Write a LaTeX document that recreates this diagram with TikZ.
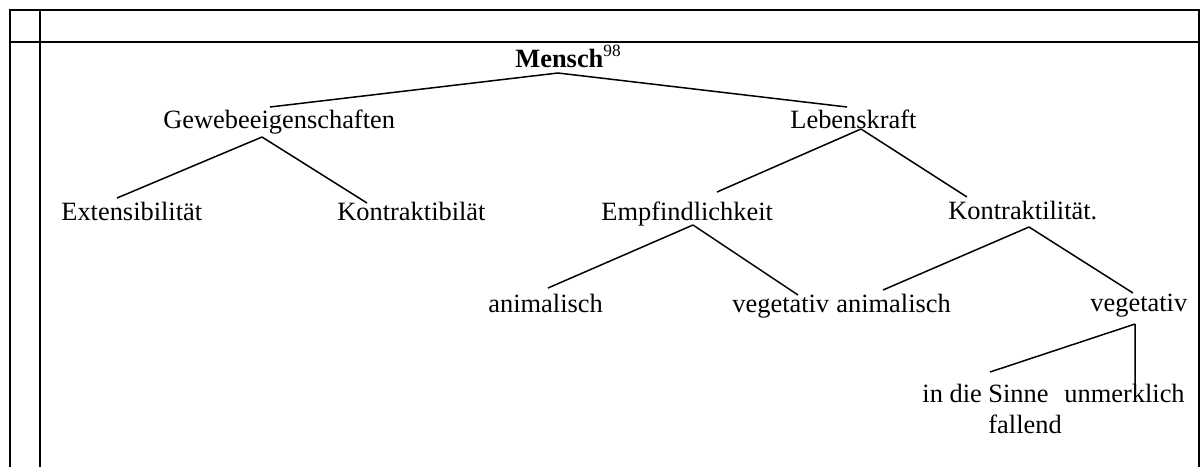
\documentclass[tikz,border=0pt]{standalone}
\usepackage{fontspec}
\setmainfont{Liberation Serif}
\usepackage{tikz}
\usetikzlibrary{calc}

\begin{document}
\begin{tikzpicture}[x={(0.5pt,0)}, y={(0,-0.5pt)},
	word/.style={inner sep=0pt, anchor=base west, font=\fontsize{13.2}{15.5}\selectfont},
	frame/.style={line width=1pt},
	twig/.style={line width=0.75pt}]

	\useasboundingbox (0,0) rectangle (1203,467);

	% table frame
	\draw[frame] (10,467) |- (1199,10) -- (1199,467);
	\draw[frame] (10,42) -- (1199,42);
	\draw[frame] (40,10) -- (40,467);

	% words of the tree
	\node[word] (mensch) at (515,67) {\textbf{Mensch}\raisebox{5.5pt}{\fontsize{8.6}{9}\selectfont 98}};
	\node[word] (gewebe) at (163,128) {Gewebeeigenschaften};
	\node[word] (leben) at (790,128) {Lebenskraft};
	\node[word] (ext) at (61,220) {Extensibilität};
	\node[word] (kontrb) at (337,220) {Kontraktibilät};
	\node[word] (empf) at (601,220) {Empfindlichkeit};
	\node[word] (kontrl) at (948,219) {Kontraktilität.};
	\node[word] (anim1) at (488,312) {animalisch};
	\node[word] (veg1) at (732,312) {vegetativ};
	\node[word] (anim2) at (836,312) {animalisch};
	\node[word] (veg2) at (1090,311) {vegetativ};
	\node[word] (sinne) at (922,402) {in die Sinne};
	\node[word] (unmerk) at (1064,402) {unmerklich};
	\node[word] (fallend) at (988,433) {fallend};

	% branches
	\draw[twig]
	($(mensch.base west)+(43,6)$) -- ($(gewebe.base west)+(107,-21)$)
	($(mensch.base west)+(43,6)$) -- ($(leben.base west)+(57,-21)$)
	($(gewebe.base west)+(99,9)$) -- ($(ext.base west)+(56,-22)$)
	($(gewebe.base west)+(99,9)$) -- ($(kontrb.base west)+(30,-17)$)
	($(leben.base west)+(71,1)$) -- ($(empf.base west)+(116,-28)$)
	($(leben.base west)+(71,1)$) -- ($(kontrl.base west)+(19,-22)$)
	($(empf.base west)+(92,5)$) -- ($(anim1.base west)+(60,-24)$)
	($(empf.base west)+(92,5)$) -- ($(veg1.base west)+(66,-17)$)
	($(kontrl.base west)+(81,8)$) -- ($(anim2.base west)+(47,-22)$)
	($(kontrl.base west)+(81,8)$) -- ($(veg2.base west)+(43,-18)$)
	($(veg2.base west)+(45,13)$) -- ($(sinne.base west)+(68,-30)$)
	($(veg2.base west)+(45,13)$) -- ($(unmerk.base west)+(71,-5)$)
	;

\end{tikzpicture}
\end{document}
